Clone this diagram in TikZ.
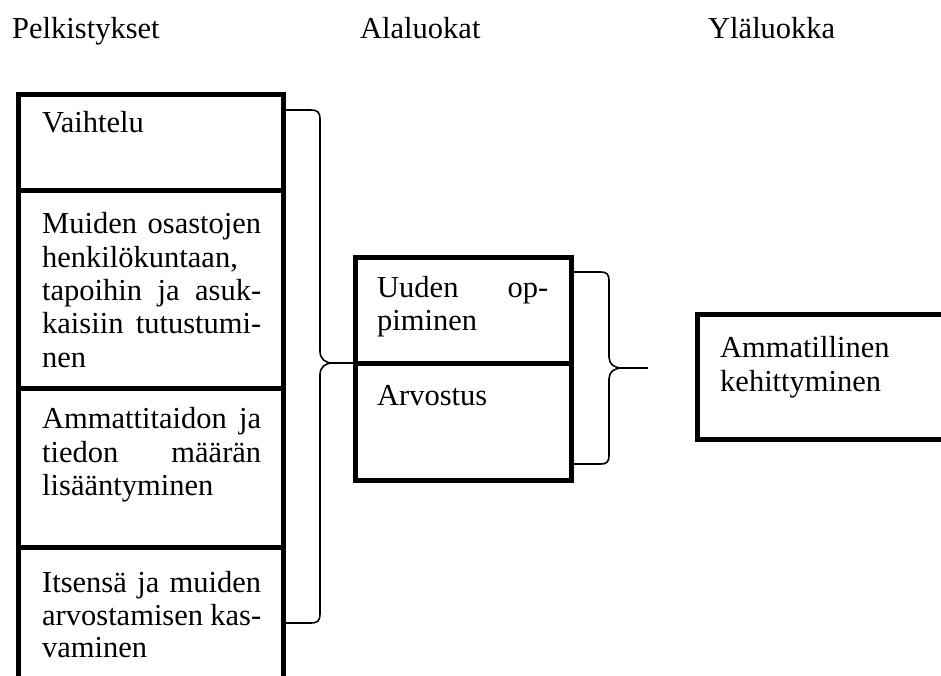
\documentclass[tikz,border=0pt]{standalone}
\usepackage{fontspec}
\setmainfont{Liberation Serif}
\begin{document}
\begin{tikzpicture}[x=1pt,y=-1pt,
  txt/.style={anchor=base west,inner sep=0pt,font=\fontsize{30.5}{33.5}\selectfont},
  boxline/.style={line width=5pt,line join=miter,line cap=butt},
  braceline/.style={line width=1.6pt,line join=round}]
\useasboundingbox (0,0) rectangle (941,675);
% headers
\node[txt] (h1) at (12,38) {Pelkistykset};
\node[txt] (h2) at (360,38) {Alaluokat};
\node[txt] (h3) at (708,38) {Yläluokka};
% left box
\draw[boxline] (18,690) -- (18,94.5) -- (283,94.5) -- (283,690);
\draw[boxline] (18,190.5) -- (283,190.5);
\draw[boxline] (18,388) -- (283,388);
\draw[boxline] (18,547) -- (283,547);
\node[txt] (p1) at (42,132) {Vaihtelu};
\node[txt] (p2a) at (42,233) {\hbox to 219pt{Muiden\hfill osastojen}};
\node[txt] (p2b) at (42,267) {henkilökuntaan,};
\node[txt] (p2c) at (42,300) {\hbox to 219pt{tapoihin\hfill ja\hfill asuk-}};
\node[txt] (p2d) at (42,333) {\hbox to 219pt{kaisiin\hfill tutustumi-}};
\node[txt] (p2e) at (42,367) {nen};
\node[txt] (p3a) at (42,428) {\hbox to 219pt{Ammattitaidon\hfill ja}};
\node[txt] (p3b) at (42,462) {\hbox to 219pt{tiedon\hfill määrän}};
\node[txt] (p3c) at (42,495) {lisääntyminen};
\node[txt] (p4a) at (42,592) {\hbox to 219pt{Itsensä\hfill ja\hfill muiden}};
\node[txt] (p4b) at (42,625) {\hbox to 219pt{arvostamisen\hfill kas-}};
\node[txt] (p4c) at (42,657) {vaminen};
% middle box
\draw[boxline] (355.5,257) rectangle (571,480);
\draw[boxline] (355.5,363) -- (571,363);
\node[txt] (a1a) at (377,297) {\hbox to 171pt{Uuden\hfill op-}};
\node[txt] (a1b) at (377,330.5) {piminen};
\node[txt] (a2) at (377,405) {Arvostus};
% right box
\draw[boxline] (960,314) -- (697,314) -- (697,439) -- (960,439);
\node[txt] (y1a) at (720,357) {Ammatillinen};
\node[txt] (y1b) at (720,391) {kehittyminen};
% braces
\coordinate (b1t) at (286,110);
\coordinate (b1b) at (286,623);
\coordinate (b1tip) at (333,363);
\coordinate (b1end) at (353,363);
\draw[braceline] (b1t) -- (310,110) .. controls (318,110) and (320,112) .. (320,120)
  -- (320,351) .. controls (320,359) and (325,363) .. (b1tip)
  .. controls (325,363) and (320,367) .. (320,375)
  -- (320,613) .. controls (320,621) and (318,623) .. (310,623) -- (b1b);
\draw[line width=2pt] (b1tip) -- (b1end);
\coordinate (b2t) at (573,272);
\coordinate (b2b) at (573,464);
\coordinate (b2tip) at (622,368);
\coordinate (b2end) at (648,368);
\draw[braceline] (b2t) -- (600,272) .. controls (607,272) and (609,274) .. (609,281)
  -- (609,357) .. controls (609,364) and (614,368) .. (b2tip)
  .. controls (614,368) and (609,372) .. (609,379)
  -- (609,455) .. controls (609,462) and (607,464) .. (600,464) -- (b2b);
\draw[line width=2pt] (b2tip) -- (b2end);
\end{tikzpicture}
\end{document}
